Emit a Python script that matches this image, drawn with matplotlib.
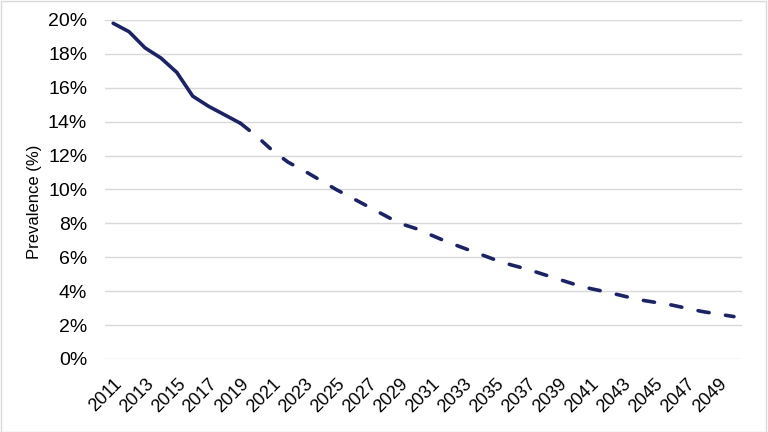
import numpy as np
import matplotlib
matplotlib.use("Agg")
import matplotlib.pyplot as plt
from matplotlib.patches import Rectangle
from matplotlib.ticker import FuncFormatter

plt.rcParams['font.family'] = ['Liberation Sans', 'DejaVu Sans']

# data
years = list(range(2011, 2051))
observed = [19.8, 19.3, 18.35, 17.75, 16.9, 15.5, 14.9, 14.4, 13.9]  # 2011-2019
projected = [13.9, 13.15, 12.3, 11.6, 11.1, 10.55, 10.0, 9.5, 9.0, 8.5,
             8.0, 7.7, 7.3, 6.9, 6.55, 6.2, 5.85, 5.55, 5.3, 5.0,
             4.7, 4.4, 4.15, 3.95, 3.73, 3.5, 3.35, 3.2, 3.0, 2.8,
             2.65, 2.5]  # 2019-2050
y_label = "Prevalence (%)"

navy = "#1c2365"

fig = plt.figure(figsize=(7.68, 4.32), dpi=100)
ax = fig.add_axes([0.137, 0.169, 0.829, 0.785])

x_obs = np.arange(len(observed))
x_proj = np.arange(len(observed) - 1, len(years))
ax.plot(x_obs, observed, color=navy, lw=2.6, solid_joinstyle='round', solid_capstyle='round')
ax.plot(x_proj, projected, color=navy, lw=2.6, linestyle=(0, (3.1, 4.6)),
        dash_capstyle='round')

ax.set_xlim(-0.5, len(years) - 0.5)
ax.set_ylim(0, 20)
ax.set_yticks(np.arange(0, 21, 2))
ax.yaxis.set_major_formatter(FuncFormatter(lambda v, p: f"{v:.0f}%"))
ax.set_xticks(np.arange(0, len(years), 2))
ax.set_xticklabels([str(y) for y in years[::2]], rotation=45, ha='right',
                   rotation_mode='anchor')
ax.tick_params(length=0, colors='black')
ax.tick_params(axis='x', pad=12, labelsize=13)
ax.tick_params(axis='y', pad=13, labelsize=14)
ax.grid(axis='y', color='#d9d9d9', lw=1)
ax.set_axisbelow(True)
for s in ax.spines.values():
    s.set_visible(False)
ax.set_ylabel(y_label, fontsize=12)
ax.yaxis.set_label_coords(-0.099, 0.463)

fig.patches.append(Rectangle((0.001, 0.001), 0.997, 0.997, transform=fig.transFigure,
                             fill=False, edgecolor='#d9d9d9', lw=1))

fig.savefig("out.png", dpi=100)
